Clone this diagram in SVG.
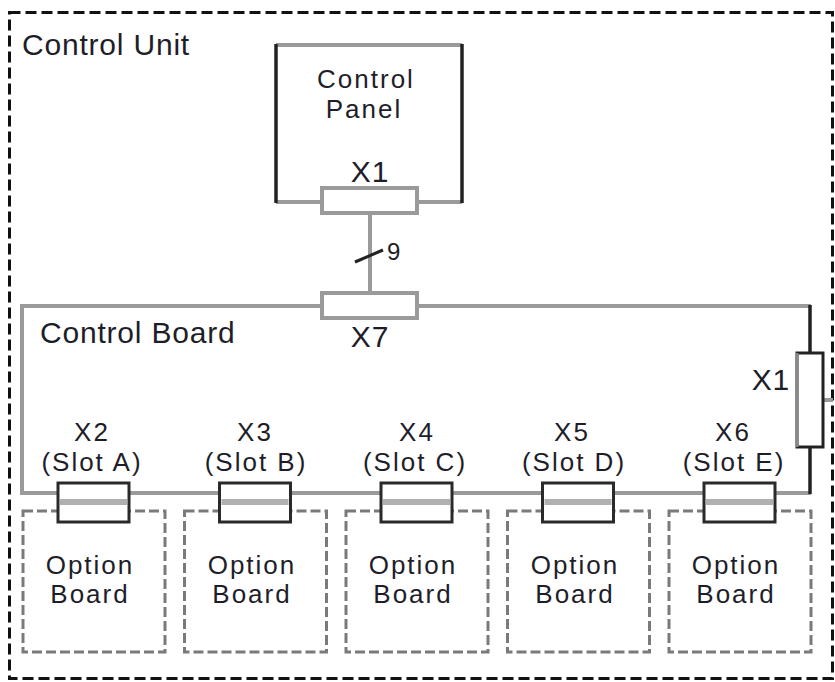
<svg xmlns="http://www.w3.org/2000/svg" width="835" height="682" viewBox="0 0 835 682">
<style>
text{font-family:"Liberation Sans",Arial,sans-serif;font-size:30px;fill:#1e1e2a;letter-spacing:0.8px}
.mid{text-anchor:middle}
.sm{font-size:26px;letter-spacing:2px}
.g{stroke:#9a9a9a;stroke-width:4;fill:none}
.k{stroke:#222;stroke-width:3.5;fill:none}
.conn{fill:#fff;stroke:#9a9a9a;stroke-width:4}
.slot{fill:#fff;stroke:#2a2a2a;stroke-width:3}
.slotside{stroke:#8a8a8a;stroke-width:3}
.stripe{stroke:#b0b0b0;stroke-width:6}
.opt{fill:none;stroke:#7a7a7a;stroke-width:3;stroke-dasharray:10 4}
.outer{fill:none;stroke:#111;stroke-width:3;stroke-dasharray:11 5}
</style>
<rect fill="#fff" x="0" y="0" width="835" height="682"/>
<g id="control-unit">
<rect class="outer" x="9.5" y="12.5" width="823" height="666"/>
<text x="22" y="55">Control Unit</text>
</g>
<g id="connectors">
<line class="g" x1="370" y1="213" x2="370" y2="292" stroke-width="5"/>
<line x1="355" y1="262" x2="383" y2="250" stroke="#222" stroke-width="3"/>
<text x="387" y="260" style="font-size:24px;letter-spacing:0">9</text>
<line class="g" x1="823" y1="400" x2="833" y2="400"/>
</g>
<g id="control-panel">
<line class="g" x1="276" y1="45" x2="462" y2="45"/>
<line class="g" x1="276" y1="202" x2="462" y2="202"/>
<line class="k" x1="276" y1="44" x2="276" y2="203"/>
<line class="k" x1="462" y1="44" x2="462" y2="203"/>
<text class="mid sm" x="366" y="88">Control</text>
<text class="mid sm" x="364" y="118">Panel</text>
</g>
<g id="x1-panel">
<rect class="conn" x="322" y="188" width="95" height="25"/>
<text class="mid" x="370" y="182">X1</text>
</g>
<g id="control-board">
<line class="g" x1="22" y1="306" x2="811" y2="306"/>
<line class="g" x1="22" y1="304" x2="22" y2="495"/>
<line class="g" x1="20" y1="493" x2="811" y2="493"/>
<line class="k" x1="810" y1="305" x2="810" y2="353"/>
<line class="k" x1="810" y1="447" x2="810" y2="494"/>
<text x="40" y="343">Control Board</text>
</g>
<g id="x7">
<rect class="conn" x="322" y="293" width="95" height="25"/>
<text class="mid" x="370" y="347">X7</text>
</g>
<g id="x1-board">
<rect x="797" y="353" width="26" height="94" fill="#fff" stroke="#222" stroke-width="3"/>
<line class="slotside" x1="797" y1="353" x2="797" y2="447"/>
<text x="790" y="390" text-anchor="end">X1</text>
</g>
<g id="slot-a">
<rect class="opt" x="23" y="511" width="142" height="141"/>
<rect class="slot" x="58" y="483" width="71" height="39"/>
<line class="stripe" x1="60" y1="502" x2="127" y2="502"/>
<text class="mid sm" x="92" y="441">X2</text>
<text class="mid sm" x="92" y="471">(Slot A)</text>
<text class="mid sm" x="90" y="574">Option</text>
<text class="mid sm" x="90" y="603">Board</text>
</g>
<g id="slot-b">
<rect class="opt" x="184.5" y="511" width="142" height="141"/>
<rect class="slot" x="219.5" y="483" width="71" height="39"/>
<line class="stripe" x1="221.5" y1="502" x2="288.5" y2="502"/>
<text class="mid sm" x="255" y="441">X3</text>
<text class="mid sm" x="256" y="471">(Slot B)</text>
<text class="mid sm" x="252" y="574">Option</text>
<text class="mid sm" x="252" y="603">Board</text>
</g>
<g id="slot-c">
<rect class="opt" x="346" y="511" width="142" height="141"/>
<rect class="slot" x="381" y="483" width="71" height="39"/>
<line class="stripe" x1="383" y1="502" x2="450" y2="502"/>
<text class="mid sm" x="417" y="441">X4</text>
<text class="mid sm" x="415" y="471">(Slot C)</text>
<text class="mid sm" x="413" y="574">Option</text>
<text class="mid sm" x="413" y="603">Board</text>
</g>
<g id="slot-d">
<rect class="opt" x="507.5" y="511" width="142" height="141"/>
<rect class="slot" x="542.5" y="483" width="71" height="39"/>
<line class="stripe" x1="544.5" y1="502" x2="611.5" y2="502"/>
<text class="mid sm" x="572" y="441">X5</text>
<text class="mid sm" x="574" y="471">(Slot D)</text>
<text class="mid sm" x="575" y="574">Option</text>
<text class="mid sm" x="575" y="603">Board</text>
</g>
<g id="slot-e">
<rect class="opt" x="669" y="511" width="142" height="141"/>
<rect class="slot" x="704" y="483" width="71" height="39"/>
<line class="stripe" x1="706" y1="502" x2="773" y2="502"/>
<text class="mid sm" x="733" y="441">X6</text>
<text class="mid sm" x="734" y="471">(Slot E)</text>
<text class="mid sm" x="736" y="574">Option</text>
<text class="mid sm" x="736" y="603">Board</text>
</g>
</svg>
